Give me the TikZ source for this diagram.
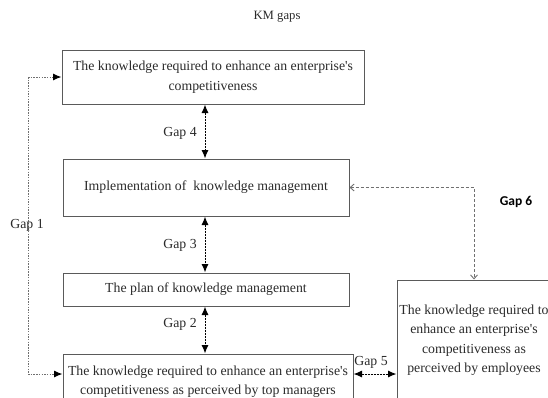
\documentclass[tikz,border=0pt]{standalone}
\usepackage{fontspec}
\setmainfont{Liberation Serif}[Ligatures=TeXOff]
\newfontfamily\gapsans{Carlito}
\usetikzlibrary{arrows.meta,calc}
\definecolor{txt}{HTML}{2A2A2A}
\definecolor{frame}{HTML}{5A5A5A}
\definecolor{dashg}{HTML}{707070}
\tikzset{
  kbox/.style={draw=frame, line width=1pt, inner sep=0pt, align=center, text=txt,
    font=\fontsize{13.8}{19.5}\selectfont},
  gaplbl/.style={text=txt, inner sep=0pt, font=\fontsize{13.8}{16}\selectfont},
  vgap/.style={black, line width=1pt, dash pattern=on 2pt off 1pt,
    {Latex[length=8.5pt,width=7pt]}-{Latex[length=8.5pt,width=7pt]}},
  gapone/.style={dashg, line width=1pt, dash pattern=on 1.5pt off 1.2pt,
    -{Latex[length=8.5pt,width=7pt,color=black]}},
  gapsix/.style={dashg, line width=0.9pt, dash pattern=on 3pt off 2pt,
    {Straight Barb[length=4pt,width=7pt]}-{Straight Barb[length=4pt,width=7pt]}}
}
\begin{document}
\begin{tikzpicture}[x=1pt,y=-1pt]
\useasboundingbox (0,0) rectangle (548,397);
\clip (0,0) rectangle (548,397);

\node[gaplbl, font=\fontsize{12.7}{15}\selectfont] (title) at (277,17) {KM gaps};

\node[kbox, minimum width=302pt, minimum height=54pt] (b1) at (213,77)
  {The knowledge required to enhance an enterprise's\\competitiveness};
\node[kbox, minimum width=286pt, minimum height=57pt] (b2) at (206,187.5)
  {Implementation of\ \ knowledge management};
\node[kbox, minimum width=286pt, minimum height=33pt] (b3) at (206,289.5)
  {The plan of knowledge management};
\node[kbox, minimum width=290pt, minimum height=55pt] (b4) at (208,381.5)
  {The knowledge required to enhance an enterprise's\\competitiveness as perceived by top managers};
\node[kbox, minimum width=154pt, minimum height=120pt] (b5) at (474,340)
  {The knowledge required to\\enhance an enterprise's\\competitiveness as\\perceived by employees};

\coordinate (vx) at (205,0);
\coordinate (g1x) at (28,0);
\coordinate (low) at (0,374);

% Gap 4, 3, 2
\draw[vgap] (b1.south -| vx) -- (b2.north -| vx);
\draw[vgap] (b2.south -| vx) -- (b3.north -| vx);
\draw[vgap] (b3.south -| vx) -- (b4.north -| vx);
\node[gaplbl] (g4) at (180,133) {Gap 4};
\node[gaplbl] (g3) at (180,245) {Gap 3};
\node[gaplbl] (g2) at (180,324) {Gap 2};

% Gap 1
\coordinate (g1top) at (b1.west -| g1x);
\coordinate (g1bot) at (low -| g1x);
\draw[gapone] (g1top) -- (b1.west);
\draw[dashg, line width=1pt, dash pattern=on 1.5pt off 1.2pt] (g1top) -- (g1bot);
\draw[gapone] (g1bot) -- (b4.west |- low);
\node[gaplbl] (g1) at (27,225) {Gap 1};

% Gap 5
\draw[vgap] (b4.east |- low) -- (b5.west |- low);
\node[gaplbl] (g5) at (371,362) {Gap 5};

% Gap 6
\draw[gapsix] (b2.east) -| (b5.north);
\node[text=black, inner sep=0pt, font=\gapsans\bfseries\fontsize{13.5}{16}\selectfont] (g6) at (516,202) {Gap 6};
\end{tikzpicture}
\end{document}
